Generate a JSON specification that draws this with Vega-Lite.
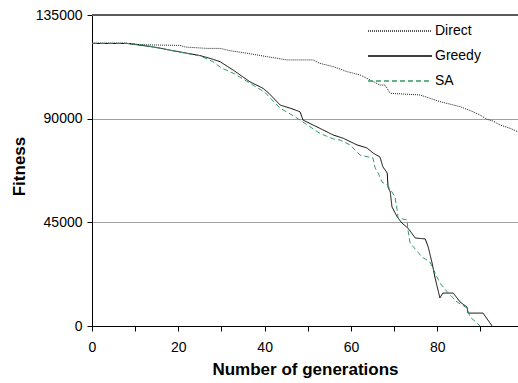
{
  "$schema": "https://vega.github.io/schema/vega-lite/v6.json",
  "width": 426,
  "height": 311,
  "autosize": {"type": "none"},
  "padding": {"left": 92, "top": 15, "right": 0, "bottom": 57},
  "background": "white",
  "config": {
    "view": {"stroke": null},
    "font": "Liberation Sans",
    "axis": {"labelFont": "Liberation Sans", "titleFont": "Liberation Sans", "labelColor": "black", "titleColor": "black"}
  },
  "data": {"values": [
    {"series":"Direct","gen":0,"fitness":122700},{"series":"Direct","gen":8,"fitness":122700},{"series":"Direct","gen":11.1,"fitness":122100},{"series":"Direct","gen":20.4,"fitness":121800},{"series":"Direct","gen":21.6,"fitness":121100},{"series":"Direct","gen":26.7,"fitness":120500},{"series":"Direct","gen":29.7,"fitness":120500},{"series":"Direct","gen":32,"fitness":119500},{"series":"Direct","gen":35.9,"fitness":118400},{"series":"Direct","gen":40.6,"fitness":116900},{"series":"Direct","gen":45.2,"fitness":115500},{"series":"Direct","gen":51.2,"fitness":115500},{"series":"Direct","gen":52.8,"fitness":114000},{"series":"Direct","gen":55.9,"fitness":112600},{"series":"Direct","gen":59.1,"fitness":110400},{"series":"Direct","gen":62.1,"fitness":109000},{"series":"Direct","gen":63.7,"fitness":107500},{"series":"Direct","gen":66.7,"fitness":104600},{"series":"Direct","gen":67.9,"fitness":104600},{"series":"Direct","gen":69.1,"fitness":101000},{"series":"Direct","gen":76,"fitness":100300},{"series":"Direct","gen":80.6,"fitness":97400},{"series":"Direct","gen":85.3,"fitness":95200},{"series":"Direct","gen":88.3,"fitness":93000},{"series":"Direct","gen":89.9,"fitness":91600},{"series":"Direct","gen":91.5,"fitness":89700},{"series":"Direct","gen":92.9,"fitness":89000},{"series":"Direct","gen":94.6,"fitness":87200},{"series":"Direct","gen":96.9,"fitness":85800},{"series":"Direct","gen":98.7,"fitness":84300},
    {"series":"Greedy","gen":0,"fitness":122700},{"series":"Greedy","gen":8,"fitness":122700},{"series":"Greedy","gen":10,"fitness":122200},{"series":"Greedy","gen":12.7,"fitness":121500},{"series":"Greedy","gen":15,"fitness":120900},{"series":"Greedy","gen":18.8,"fitness":119500},{"series":"Greedy","gen":22,"fitness":118400},{"series":"Greedy","gen":25,"fitness":117400},{"series":"Greedy","gen":28,"fitness":115800},{"series":"Greedy","gen":29.7,"fitness":114700},{"series":"Greedy","gen":32.7,"fitness":111100},{"series":"Greedy","gen":36.6,"fitness":106000},{"series":"Greedy","gen":39.6,"fitness":103200},{"series":"Greedy","gen":41,"fitness":101000},{"series":"Greedy","gen":43.6,"fitness":95900},{"series":"Greedy","gen":46,"fitness":94500},{"series":"Greedy","gen":48.2,"fitness":93000},{"series":"Greedy","gen":48.9,"fitness":89400},{"series":"Greedy","gen":52.8,"fitness":85800},{"series":"Greedy","gen":55.9,"fitness":82900},{"series":"Greedy","gen":58.2,"fitness":81500},{"series":"Greedy","gen":61.4,"fitness":78600},{"series":"Greedy","gen":63.7,"fitness":77300},{"series":"Greedy","gen":65.1,"fitness":75100},{"series":"Greedy","gen":66.7,"fitness":73400},{"series":"Greedy","gen":67.4,"fitness":69100},{"series":"Greedy","gen":68.4,"fitness":66400},{"series":"Greedy","gen":68.6,"fitness":60300},{"series":"Greedy","gen":69.1,"fitness":58200},{"series":"Greedy","gen":69.5,"fitness":51700},{"series":"Greedy","gen":70.7,"fitness":47400},{"series":"Greedy","gen":71.8,"fitness":44700},{"series":"Greedy","gen":73.2,"fitness":42500},{"series":"Greedy","gen":74.9,"fitness":38200},{"series":"Greedy","gen":77.2,"fitness":37800},{"series":"Greedy","gen":77.9,"fitness":34300},{"series":"Greedy","gen":78.8,"fitness":27300},{"series":"Greedy","gen":79.5,"fitness":20800},{"series":"Greedy","gen":80.6,"fitness":12200},{"series":"Greedy","gen":81.3,"fitness":14300},{"series":"Greedy","gen":83.7,"fitness":14300},{"series":"Greedy","gen":85.3,"fitness":10400},{"series":"Greedy","gen":86.9,"fitness":8200},{"series":"Greedy","gen":87.1,"fitness":5600},{"series":"Greedy","gen":90.6,"fitness":5600},{"series":"Greedy","gen":92.7,"fitness":0},
    {"series":"SA","gen":0,"fitness":122700},{"series":"SA","gen":8,"fitness":122700},{"series":"SA","gen":12,"fitness":122000},{"series":"SA","gen":15,"fitness":120800},{"series":"SA","gen":20,"fitness":119000},{"series":"SA","gen":25,"fitness":117300},{"series":"SA","gen":28,"fitness":114800},{"series":"SA","gen":30,"fitness":112000},{"series":"SA","gen":33,"fitness":109500},{"series":"SA","gen":36.6,"fitness":105400},{"series":"SA","gen":40,"fitness":101500},{"series":"SA","gen":43.6,"fitness":94500},{"series":"SA","gen":46,"fitness":92000},{"series":"SA","gen":48.2,"fitness":89400},{"series":"SA","gen":52.8,"fitness":83600},{"series":"SA","gen":55.9,"fitness":81200},{"series":"SA","gen":57.5,"fitness":80700},{"series":"SA","gen":59.8,"fitness":78600},{"series":"SA","gen":62.1,"fitness":74200},{"series":"SA","gen":65.1,"fitness":72900},{"series":"SA","gen":65.6,"fitness":68600},{"series":"SA","gen":66.3,"fitness":66400},{"series":"SA","gen":67.2,"fitness":62500},{"series":"SA","gen":68.4,"fitness":61200},{"series":"SA","gen":69.5,"fitness":58200},{"series":"SA","gen":70.2,"fitness":56000},{"series":"SA","gen":70.7,"fitness":50400},{"series":"SA","gen":70.9,"fitness":46900},{"series":"SA","gen":73,"fitness":46000},{"series":"SA","gen":73.2,"fitness":41700},{"series":"SA","gen":73.7,"fitness":36000},{"series":"SA","gen":76.5,"fitness":29900},{"series":"SA","gen":78.3,"fitness":27800},{"series":"SA","gen":79.5,"fitness":23000},{"series":"SA","gen":80.6,"fitness":18700},{"series":"SA","gen":82.3,"fitness":14800},{"series":"SA","gen":84.6,"fitness":10400},{"series":"SA","gen":86.9,"fitness":7800},{"series":"SA","gen":87.6,"fitness":3900},{"series":"SA","gen":89.2,"fitness":1300},{"series":"SA","gen":89.9,"fitness":0}
  ]},
  "layer": [
    {
      "mark": {"type": "rule", "color": "#5a5a5a", "strokeWidth": 2},
      "encoding": {"y": {"datum": 135000, "type": "quantitative"}}
    },
    {
      "mark": {"type": "line", "strokeWidth": 1, "clip": true},
      "encoding": {
        "x": {"field": "gen", "type": "quantitative", "scale": {"domain": [0, 98.7], "nice": false, "zero": false},
          "axis": {"values": [0,10,20,30,40,50,60,70,80,90], "labelExpr": "datum.value % 20 === 0 ? datum.label : ''", "grid": false,
            "domainColor": "black", "tickColor": "black", "tickSize": 5, "labelFontSize": 14, "labelPadding": 9, "labelFlush": false,
            "title": "Number of generations", "titleFontSize": 17, "titleFontWeight": "bold", "titleX": 213, "titleY": 48, "titleAlign": "center", "titleBaseline": "alphabetic"}},
        "y": {"field": "fitness", "type": "quantitative", "scale": {"domain": [0, 135000], "nice": false},
          "axis": {"values": [0, 45000, 90000, 135000], "format": "d", "grid": true, "gridColor": "#a0a0a0", "gridWidth": 1.2,
            "domainColor": "black", "tickColor": "black", "tickSize": 5, "labelFontSize": 14, "labelPadding": 5, "labelFlush": false,
            "title": "Fitness", "titleFontSize": 17, "titleFontWeight": "bold", "titleX": -73, "titleY": 151, "titleAlign": "center", "titleBaseline": "middle", "titleAngle": -90}},
        "color": {"field": "series", "type": "nominal", "scale": {"domain": ["Direct", "Greedy", "SA"], "range": ["#202020", "#000000", "#339966"]},
          "legend": {"orient": "none", "legendX": 275, "legendY": 8, "title": null, "symbolType": "stroke", "symbolSize": 4096, "symbolStrokeWidth": 1.3, "clipHeight": 16, "rowPadding": 9, "labelFontSize": 14, "labelFont": "Liberation Sans", "labelColor": "black", "labelOffset": 2}},
        "strokeDash": {"field": "series", "type": "nominal", "scale": {"domain": ["Direct", "Greedy", "SA"], "range": [[1, 1], [1, 0], [5, 3]]},
          "legend": {"orient": "none", "legendX": 275, "legendY": 8, "title": null, "symbolType": "stroke", "symbolSize": 4096, "symbolStrokeWidth": 1.3, "clipHeight": 16, "rowPadding": 9, "labelFontSize": 14, "labelFont": "Liberation Sans", "labelColor": "black", "labelOffset": 2}}
      }
    }
  ]
}
